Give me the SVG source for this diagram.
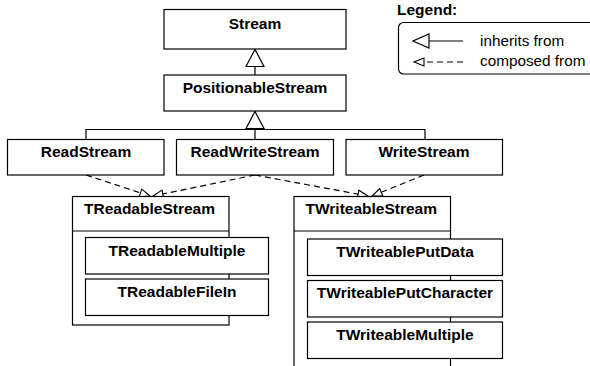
<svg xmlns="http://www.w3.org/2000/svg" width="590" height="366" viewBox="0 0 590 366">
<style>
  .box { fill: #fff; stroke: #000; stroke-width: 1.2; }
  .lbl { font-family: "Liberation Sans", Arial, Helvetica, sans-serif; font-size: 15.5px; font-weight: bold; fill: #000; }
  .c { text-anchor: middle; }
  .leg { font-family: "Liberation Sans", Arial, Helvetica, sans-serif; font-size: 15.3px; fill: #000; }
  .inh { fill: none; stroke: #000; stroke-width: 1.2; }
  .comp { fill: none; stroke: #000; stroke-width: 1.2; stroke-dasharray: 6 4; }
</style>
<defs>
  <marker id="tri" markerUnits="userSpaceOnUse" viewBox="0 0 19 20" refX="18" refY="10" markerWidth="19" markerHeight="20" orient="auto">
    <path d="M18,10 L1,1 L1,19 Z" fill="#fff" stroke="#000" stroke-width="1.2"/>
  </marker>
  <marker id="triS" markerUnits="userSpaceOnUse" viewBox="0 0 18 16" refX="17" refY="8" markerWidth="18" markerHeight="16" orient="auto">
    <path d="M17,8 L1,1 L1,15 Z" fill="#fff" stroke="#000" stroke-width="1.2"/>
  </marker>
  <marker id="open" markerUnits="userSpaceOnUse" viewBox="0 0 12 10" refX="11" refY="5" markerWidth="12" markerHeight="10" orient="auto">
    <path d="M11,5 L1,1 L1,9 Z" fill="#fff" stroke="#000" stroke-width="1.1"/>
  </marker>
</defs>

<g id="connectors">
  <line class="inh" x1="255" y1="75" x2="255" y2="49.5" marker-end="url(#tri)"/>
  <line class="inh" x1="255" y1="139" x2="255" y2="111.5" marker-end="url(#tri)"/>
  <polyline class="inh" points="86,139 86,129.5 425,129.5 425,139"/>
  <line class="comp" x1="86" y1="175" x2="150" y2="196" marker-end="url(#open)"/>
  <line class="comp" x1="255" y1="175" x2="153" y2="196" marker-end="url(#open)"/>
  <line class="comp" x1="255" y1="175" x2="368" y2="196" marker-end="url(#open)"/>
  <line class="comp" x1="424" y1="175" x2="372" y2="196" marker-end="url(#open)"/>
</g>

<g id="Stream">
  <rect class="box" x="164" y="9.5" width="182" height="39.5"/>
  <text class="lbl c" x="255" y="28.5">Stream</text>
</g>
<g id="PositionableStream">
  <rect class="box" x="164" y="75" width="182" height="36"/>
  <text class="lbl c" x="255" y="93">PositionableStream</text>
</g>
<g id="ReadStream">
  <rect class="box" x="7.5" y="139.5" width="156.5" height="35.5"/>
  <text class="lbl c" x="86" y="156.5">ReadStream</text>
</g>
<g id="ReadWriteStream">
  <rect class="box" x="176.5" y="139.5" width="157" height="35.5"/>
  <text class="lbl c" x="255" y="156.5">ReadWriteStream</text>
</g>
<g id="WriteStream">
  <rect class="box" x="346" y="139.5" width="156.5" height="35.5"/>
  <text class="lbl c" x="424" y="156.5">WriteStream</text>
</g>

<g id="TReadableStream">
  <rect class="box" x="72.5" y="196.5" width="156.5" height="128.5"/>
  <line class="inh" x1="72.5" y1="231" x2="229" y2="231"/>
  <text class="lbl" x="84" y="214.3">TReadableStream</text>
</g>
<g id="TReadableMultiple">
  <rect class="box" x="85.5" y="237.5" width="183" height="36.5"/>
  <text class="lbl c" x="177" y="256">TReadableMultiple</text>
</g>
<g id="TReadableFileIn">
  <rect class="box" x="85.5" y="279" width="183" height="36.5"/>
  <text class="lbl c" x="177" y="297">TReadableFileIn</text>
</g>

<g id="TWriteableStream">
  <rect class="box" x="294" y="196.5" width="156.5" height="180"/>
  <line class="inh" x1="294" y1="231" x2="450.5" y2="231"/>
  <text class="lbl" x="305.5" y="214.3">TWriteableStream</text>
</g>
<g id="TWriteablePutData">
  <rect class="box" x="307.5" y="239" width="195" height="36.5"/>
  <text class="lbl c" x="405" y="257">TWriteablePutData</text>
</g>
<g id="TWriteablePutCharacter">
  <rect class="box" x="307.5" y="280.5" width="195" height="36.5"/>
  <text class="lbl c" x="405" y="298">TWriteablePutCharacter</text>
</g>
<g id="TWriteableMultiple">
  <rect class="box" x="307.5" y="322" width="195" height="36.5"/>
  <text class="lbl c" x="405" y="339.5">TWriteableMultiple</text>
</g>

<g id="legend">
  <text class="lbl" x="397" y="15">Legend:</text>
  <rect class="box" x="398.5" y="22.5" width="200" height="51.5" rx="5" ry="5"/>
  <line class="inh" x1="463" y1="41" x2="413" y2="41" marker-end="url(#triS)"/>
  <text class="leg" x="480" y="45.5">inherits from</text>
  <line class="comp" x1="463" y1="62" x2="414" y2="62" marker-end="url(#open)"/>
  <text class="leg" x="480" y="66">composed from</text>
</g>
</svg>
